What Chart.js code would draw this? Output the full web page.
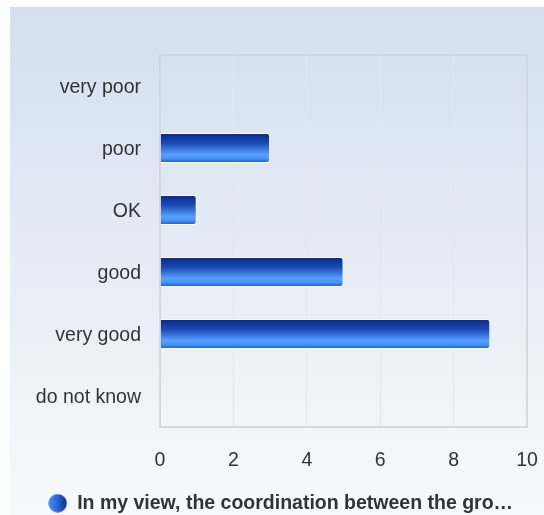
<!DOCTYPE html>
<html>
<head>
<meta charset="utf-8">
<script src="https://cdn.jsdelivr.net/npm/chart.js@4/dist/chart.umd.min.js"></script>
<style>
  html, body { margin: 0; padding: 0; background: #ffffff; overflow: hidden; }
  #wrap { width: 544px; height: 515px; }
</style>
</head>
<body>
<div id="wrap"><canvas id="grafico" width="544" height="515"></canvas></div>
<script>
var categorias = ['very poor', 'poor', 'OK', 'good', 'very good', 'do not know'];
var valores = [0, 3, 1, 5, 9, 0];
var ticksX = [0, 2, 4, 6, 8, 10];
var nomeSerie = 'In my view, the coordination between the gro\u2026';

var fonte = 'Liberation Sans, Arial, sans-serif';
var padDireita = 17;

// icone da legenda: bolinha com gradiente
function criarIcone() {
    var c = document.createElement('canvas');
    c.width = 19; c.height = 19;
    var g = c.getContext('2d');
    var grad = g.createLinearGradient(0, 0, 19, 0);
    grad.addColorStop(0, '#4a8cf0');
    grad.addColorStop(0.45, '#2e6ad8');
    grad.addColorStop(1, '#0c2f92');
    g.fillStyle = grad;
    g.beginPath();
    g.arc(9.5, 9.5, 9.2, 0, Math.PI * 2);
    g.fill();
    return c;
}

function corBarra(context) {
    var chart = context.chart;
    var y = chart.scales.y;
    if (!y || context.type !== 'data') return '#2a66d6';
    var centro = y.getPixelForValue(context.dataIndex);
    var linha = Math.abs(y.getPixelForValue(1) - y.getPixelForValue(0));
    if (!isFinite(centro) || !isFinite(linha) || linha === 0) return '#2a66d6';
    var h = linha * 0.48;
    var g = chart.ctx.createLinearGradient(0, centro - h / 2, 0, centro + h / 2);
    g.addColorStop(0, '#0a2884');
    g.addColorStop(0.35, '#1c4cb8');
    g.addColorStop(0.72, '#56a0ff');
    g.addColorStop(0.86, '#4a90f2');
    g.addColorStop(1, '#1a58c8');
    return g;
}

var fundoPlugin = {
    id: 'fundo',
    afterLayout: function (chart) {
        // centraliza a legenda como no original
        var lg = chart.legend;
        if (lg) {
            var centroAlvo = 280.5;
            var dx = centroAlvo - (lg.left + lg.right) / 2;
            lg.left += dx; lg.right += dx;
            lg.top += 8; lg.bottom += 8;
        }
    },
    beforeDraw: function (chart) {
        var ctx = chart.ctx;
        var grad = ctx.createLinearGradient(0, 7, 0, 515);
        grad.addColorStop(0, '#d3dfef');
        grad.addColorStop(1, '#f8f9fc');
        ctx.save();
        ctx.fillStyle = grad;
        ctx.fillRect(10, 7, 534, 508);
        ctx.restore();
    },
    afterDraw: function (chart) {
        var a = chart.chartArea;
        var ctx = chart.ctx;
        ctx.save();
        ctx.strokeStyle = '#cfd2d6';
        ctx.lineWidth = 1.5;
        ctx.strokeRect(a.left, a.top, a.right - a.left, a.bottom - a.top);
        ctx.restore();
    }
};

new Chart(document.getElementById('grafico').getContext('2d'), {
    type: 'bar',
    data: {
        labels: categorias,
        datasets: [{
            label: nomeSerie,
            data: valores,
            backgroundColor: corBarra,
            borderColor: '#ffffff',
            borderWidth: 1,
            borderRadius: 3,
            borderSkipped: 'start',
            barPercentage: 0.48,
            categoryPercentage: 1,
            pointStyle: criarIcone()
        }]
    },
    options: {
        indexAxis: 'y',
        responsive: false,
        animation: false,
        layout: { padding: { left: 10, top: 55, right: padDireita, bottom: 0 } },
        scales: {
            x: {
                min: 0,
                max: 10,
                afterBuildTicks: function (scale) {
                    scale.ticks = ticksX.map(function (v) { return { value: v }; });
                },
                afterFit: function (scale) { scale.height = 48.5; },
                grid: { color: '#e3e6ea', drawTicks: true, tickLength: 22, tickColor: 'rgba(0,0,0,0)' },
                border: { display: false },
                ticks: { padding: 0, color: '#333333', font: { family: fonte, size: 19.5 } }
            },
            y: {
                afterFit: function (scale) { scale.width = 150; },
                grid: { display: false, drawTicks: false },
                border: { display: false },
                ticks: { padding: 19, labelOffset: 2, color: '#333333', font: { family: fonte, size: 19.5 } }
            }
        },
        plugins: {
            legend: {
                position: 'bottom',
                labels: {
                    usePointStyle: true,
                    padding: 10,
                    color: '#333333',
                    font: { family: fonte, size: 19.5, weight: 'bold' }
                }
            },
            tooltip: { enabled: false }
        }
    },
    plugins: [fundoPlugin]
});
</script>
</body>
</html>
